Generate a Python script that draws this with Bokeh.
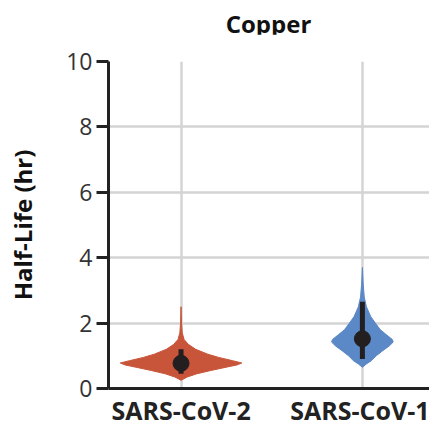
from bokeh.plotting import figure
from bokeh.models import FixedTicker, ColumnDataSource, Div
from bokeh.layouts import column
from bokeh.embed import file_html
from bokeh.resources import INLINE

# ---- data ----
title_text = "Copper"
categories = ["SARS-CoV-2", "SARS-CoV-1"]
colors = ["#c8553a", "#5b88c6"]

# violin profiles: half-life levels (hr) and relative density (1 = widest)
cov2_levels = [0.25, 0.35, 0.45, 0.55, 0.65, 0.72, 0.78, 0.85, 0.95, 1.05, 1.2, 1.35, 1.5, 1.7, 2.0, 2.5]
cov2_density = [0.0, 0.10, 0.26, 0.49, 0.74, 0.92, 1.0, 0.85, 0.62, 0.44, 0.24, 0.12, 0.05, 0.02, 0.008, 0.0]
cov1_levels = [0.65, 0.75, 0.85, 1.0, 1.15, 1.3, 1.42, 1.5, 1.65, 1.8, 2.0, 2.2, 2.5, 2.8, 3.2, 3.7]
cov1_density = [0.0, 0.13, 0.29, 0.45, 0.65, 0.87, 1.0, 0.97, 0.77, 0.58, 0.42, 0.27, 0.13, 0.06, 0.025, 0.0]
max_halfwidth = [0.335, 0.17]  # widest half-width of each violin, in category units

medians = [0.77, 1.52]
ci_low = [0.45, 0.90]
ci_high = [1.20, 2.65]

y_ticks = [0, 2, 4, 6, 8, 10]

FONT = "Open Sans"
TITLE_H = 34

header = Div(
    text=('<div style="display:block;width:321px;margin:0 0 0 108px;padding:0;'
          'position:relative;top:7px;text-align:center;font-family:\'Open Sans\';'
          'font-size:24px;font-weight:bold;line-height:%dpx;color:#111111">%s</div>'
          % (TITLE_H, title_text)),
    width=429, height=TITLE_H, margin=0)

p = figure(width=429, height=429 - TITLE_H, x_range=(-0.40, 1.37), y_range=(0, 10),
           output_backend="svg", toolbar_location=None,
           min_border_left=108, min_border_right=0,
           min_border_top=61 - TITLE_H, min_border_bottom=38, margin=0)
p.outline_line_color = None
p.background_fill_color = "white"
p.border_fill_color = "white"

# grid
p.xgrid.ticker = FixedTicker(ticks=[0, 1])
p.ygrid.ticker = FixedTicker(ticks=y_ticks)
p.grid.grid_line_color = "#d4d4d4"
p.grid.grid_line_width = 2.5

# y axis
p.yaxis.ticker = FixedTicker(ticks=y_ticks)
p.yaxis.axis_label = "Half-Life (hr)"
p.yaxis.axis_label_text_font = FONT
p.yaxis.axis_label_text_font_style = "bold"
p.yaxis.axis_label_text_font_size = "24px"
p.yaxis.axis_label_text_color = "#111111"
p.yaxis.axis_label_standoff = 24
p.yaxis.major_label_text_font = FONT
p.yaxis.major_label_text_font_size = "23px"
p.yaxis.major_label_text_color = "#333333"
p.yaxis.major_label_standoff = 4
p.yaxis.major_tick_out = 12
p.yaxis.major_tick_in = 0
p.yaxis.minor_tick_line_color = None
p.yaxis.axis_line_width = 3
p.yaxis.major_tick_line_width = 3
p.yaxis.axis_line_color = "#222222"
p.yaxis.major_tick_line_color = "#222222"

# x axis
p.xaxis.ticker = FixedTicker(ticks=[0, 1])
p.xaxis.major_label_overrides = {0: categories[0], 1: categories[1]}
p.xaxis.major_label_text_font = FONT
p.xaxis.major_label_text_font_size = "25px"
p.xaxis.major_label_text_font_style = "bold"
p.xaxis.major_label_text_color = "#222222"
p.xaxis.major_label_standoff = 4
p.xaxis.major_tick_out = 0
p.xaxis.major_tick_in = 0
p.xaxis.minor_tick_out = 0
p.xaxis.minor_tick_in = 0
p.xaxis.major_tick_line_color = None
p.xaxis.minor_tick_line_color = None
p.xaxis.axis_line_width = 3
p.xaxis.axis_line_color = "#222222"

# violins
profiles = [(cov2_levels, cov2_density), (cov1_levels, cov1_density)]
for i, (lv, dens) in enumerate(profiles):
    xs = [i + d * max_halfwidth[i] for d in dens] + [i - d * max_halfwidth[i] for d in reversed(dens)]
    ys = list(lv) + list(reversed(lv))
    p.patch(xs, ys, fill_color=colors[i], line_color=colors[i], line_width=1)

# interval bars and medians
src = ColumnDataSource(dict(x=[0, 1], med=medians, lo=ci_low, hi=ci_high))
p.segment(x0="x", y0="lo", x1="x", y1="hi", source=src, line_width=5, line_color="#231f20")
p.scatter(x="x", y="med", source=src, size=16, fill_color="#231f20", line_color="#231f20")

layout = column(header, p, spacing=0)
open("out.html", "w").write(file_html(layout, INLINE))
